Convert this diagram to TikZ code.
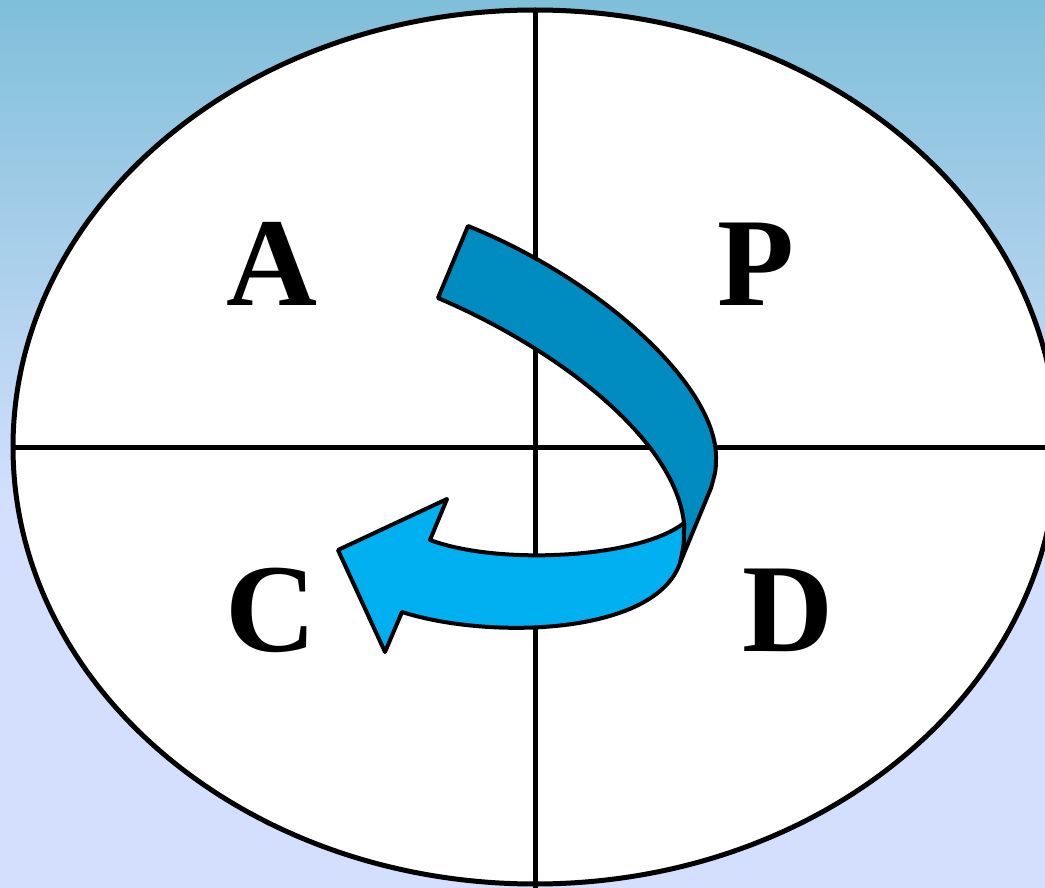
\documentclass[tikz,border=0pt]{standalone}
\usepackage{fontspec}
\setmainfont{Liberation Serif}
\usetikzlibrary{shapes.geometric}
\definecolor{bgtop}{RGB}{127,191,217}
\definecolor{bgbot}{RGB}{211,223,253}
\definecolor{darkribbon}{RGB}{0,140,192}
\definecolor{lightribbon}{RGB}{0,176,240}
\tikzset{
  letter/.style={anchor=base, inner sep=0pt, font=\fontsize{126}{126}\selectfont\bfseries},
  ribbon/.style={draw=black, line width=4pt, line join=round},
  cross/.style={draw=black, line width=5pt},
}
\begin{document}
\begin{tikzpicture}[x=1pt,y=-1pt]
\clip (0,0) rectangle (1045,888);
\shade[top color=bgtop, bottom color=bgbot] (0,0) rectangle (1045,501);
\fill[bgbot] (0,500) rectangle (1045,888);
\node[ellipse, fill=white, inner sep=0pt, minimum width=1044pt, minimum height=874pt] (E) at (535,447) {};
\coordinate (bottomend) at (535,888);
\coordinate (rightend) at (1045,447);
\draw[cross] (E.north) -- (bottomend);
\draw[cross] (E.west) -- (rightend);
\draw[line width=5pt] (535,447) ellipse [x radius=522, y radius=437];
% dark ribbon
\draw[ribbon, fill=darkribbon] (468,226) .. controls (602,280) and (716,386) .. (716,457)
  .. controls (716,470) .. (711,488) -- (680,563) .. controls (684,545) .. (684,523)
  .. controls (675,440) and (560,350) .. (438,298) -- cycle;
% light ribbon with head
\draw[ribbon, fill=lightribbon] (684,523) .. controls (640,558) and (500,566) .. (430,540)
  -- (447,499) -- (338,550) -- (385,652) -- (402,612)
  .. controls (490,640) and (655,635) .. (680,563)
  .. controls (684,545) .. (684,523) -- cycle;
\node[letter] (A) at (272,305) {A};
\node[letter] (P) at (756,305) {P};
\node[letter] (C) at (271,651) {C};
\node[letter] (D) at (788,651) {D};
\end{tikzpicture}
\end{document}
